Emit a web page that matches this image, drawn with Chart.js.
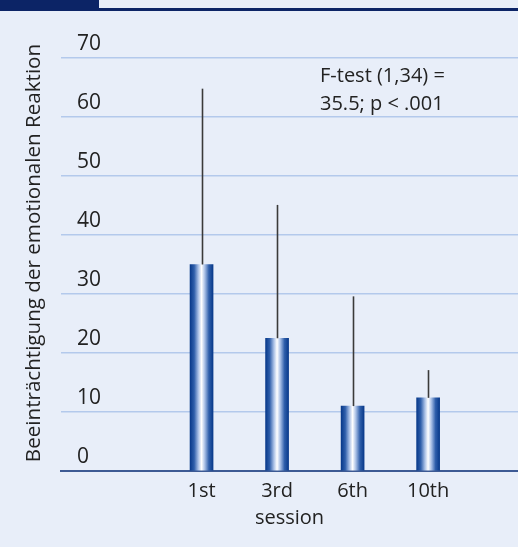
<!DOCTYPE html>
<html>
<head>
<meta charset="utf-8">
<script src="https://cdn.jsdelivr.net/npm/chart.js@4/dist/chart.umd.min.js"></script>
<style>
    html, body { margin: 0; padding: 0; background: #e8eef9; }
    #wrap { position: relative; width: 518px; height: 547px; overflow: hidden; }
    #chartSessions { position: absolute; left: 0; top: 0; }
    #hdrBlock { position: absolute; left: 0; top: 0; width: 99px; height: 9px; background: #0c2466; }
    #hdrLine { position: absolute; left: 0; top: 8px; width: 518px; height: 3px; background: #0c2466; }
</style>
</head>
<body>
<div id="wrap">
    <canvas id="chartSessions" width="518" height="547"></canvas>
    <div id="hdrBlock"></div>
    <div id="hdrLine"></div>
</div>
<script>
const sessions = ['1st', '3rd', '6th', '10th'];
const sessionPos = [1, 2, 3, 4];
const meanValues = [35, 22.5, 11, 12.4];
const upperValues = [64.8, 45.1, 29.6, 17.1];
const noteLines = ['F-test (1,34) =', '35.5; p < .001'];
const yTitle = 'Beeinträchtigung der emotionalen Reaktion';
const xTitle = 'session';

const FONT = '"Open Sans", "Noto Sans", sans-serif';
const TEXT = '#222222';

function barGradient(c) {
    const chart = c.chart;
    if (c.type !== 'data' || !chart.chartArea) return '#0a3c8c';
    const cx = chart.scales.x.getPixelForValue(c.raw.x);
    const g = chart.ctx.createLinearGradient(cx - 11.5, 0, cx + 11.5, 0);
    g.addColorStop(0, '#08398a');
    g.addColorStop(0.18, '#2f5fab');
    g.addColorStop(0.36, '#a9c0e6');
    g.addColorStop(0.5, '#ffffff');
    g.addColorStop(0.64, '#a9c0e6');
    g.addColorStop(0.82, '#2f5fab');
    g.addColorStop(1, '#08398a');
    return g;
}

const extras = {
    id: 'extras',
    afterDatasetsDraw(chart) {
        const { ctx, scales: { x, y } } = chart;
        ctx.save();
        // upper whiskers
        ctx.strokeStyle = '#3a3a3a';
        ctx.lineWidth = 1.6;
        sessionPos.forEach((p, i) => {
            const px = Math.round(x.getPixelForValue(p)) + 0.5;
            ctx.beginPath();
            ctx.moveTo(px, y.getPixelForValue(meanValues[i]));
            ctx.lineTo(px, y.getPixelForValue(upperValues[i]));
            ctx.stroke();
        });
        // F-test note
        ctx.fillStyle = TEXT;
        ctx.font = '20px ' + FONT;
        ctx.textAlign = 'left';
        ctx.textBaseline = 'alphabetic';
        noteLines.forEach((t, i) => ctx.fillText(t, 320, 82 + i * 28));
        // y title
        ctx.font = '20.6px ' + FONT;
        ctx.translate(34, 253);
        ctx.rotate(-Math.PI / 2);
        ctx.textAlign = 'center';
        ctx.textBaseline = 'middle';
        ctx.fillText(yTitle, 0, 0);
        ctx.restore();
    }
};

new Chart(document.getElementById('chartSessions'), {
    type: 'bar',
    data: {
        datasets: [{
            data: sessionPos.map((p, i) => ({ x: p, y: meanValues[i] })),
            backgroundColor: barGradient,
            borderWidth: 0,
            barThickness: 23
        }]
    },
    plugins: [extras],
    options: {
        responsive: false,
        animation: false,
        devicePixelRatio: 1,
        layout: { padding: { top: 58, left: 0, right: 0, bottom: 0 } },
        plugins: { legend: { display: false }, tooltip: { enabled: false } },
        scales: {
            x: {
                type: 'linear',
                offset: false,
                min: -0.861,
                max: 5.19,
                afterFit(s) { s.height = 76; },
                afterBuildTicks(s) { s.ticks = sessionPos.map(v => ({ value: v })); },
                grid: { display: false, drawTicks: false },
                border: { display: true, color: '#3d5a94', width: 2 },
                ticks: {
                    autoSkip: false,
                    maxRotation: 0,
                    padding: 8,
                    color: TEXT,
                    font: { family: FONT, size: 20 },
                    callback: (v, i) => sessions[i]
                },
                title: {
                    display: true,
                    text: xTitle,
                    color: TEXT,
                    font: { family: FONT, size: 20 },
                    padding: { top: 0, bottom: 17 }
                }
            },
            y: {
                min: 0,
                max: 70,
                afterFit(s) { s.width = 61; },
                grid: { color: '#b3c9ec', lineWidth: 1.5, drawTicks: false },
                border: { display: false },
                ticks: {
                    stepSize: 10,
                    mirror: true,
                    padding: 16,
                    labelOffset: -14,
                    color: TEXT,
                    font: { family: FONT, size: 21 }
                }
            }
        }
    }
});
</script>
</body>
</html>
